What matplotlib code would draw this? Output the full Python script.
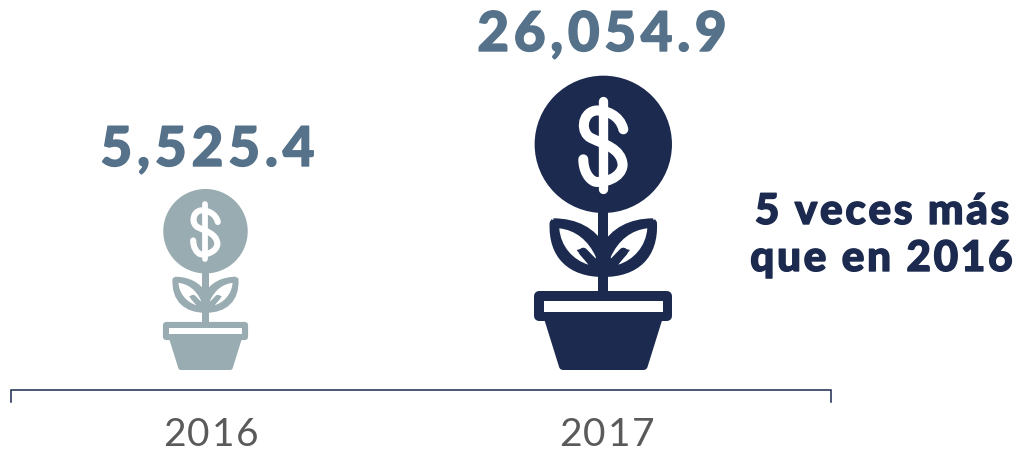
import matplotlib
matplotlib.use('Agg')
import matplotlib.pyplot as plt
import matplotlib.patheffects as pe
from matplotlib.path import Path
from matplotlib.patches import PathPatch, Circle

years = ['2016', '2017']
values = ['5,525.4', '26,054.9']
note = '5 veces más\nque en 2016'

navy = '#1b2a4e'
grey = '#98acb2'
blue = '#56728a'

M, C, L, Z = Path.MOVETO, Path.CURVE4, Path.LINETO, Path.CLOSEPOLY

fig = plt.figure(figsize=(10.19, 4.51), dpi=100)
ax = fig.add_axes([0, 0, 1, 1])
ax.set_xlim(0, 1019)
ax.set_ylim(451, 0)
ax.axis('off')


def spaced(x, y, s, size, color, weight, track, bold=0):
    # matplotlib has no letter spacing, so lay the characters out one by one
    r = fig.canvas.get_renderer()
    widths = []
    for i in range(len(s)):
        t = ax.text(0, 0, s[:i + 1] + '|', fontsize=size, fontweight=weight, family='Lato')
        widths.append(t.get_window_extent(r).width)
        t.remove()
    t = ax.text(0, 0, '|', fontsize=size, fontweight=weight, family='Lato')
    bar = t.get_window_extent(r).width
    t.remove()
    total = widths[-1] - bar + track * (len(s) - 1)
    left = x - total / 2
    for i, ch in enumerate(s):
        before = widths[i - 1] - bar if i > 0 else 0
        t = ax.text(left + before + track * i, y, ch, fontsize=size, fontweight=weight,
                    family='Lato', color=color, ha='left', va='baseline')
        if bold:
            t.set_path_effects([pe.withStroke(linewidth=bold, foreground=color)])


def plant(cx, base, s, color):
    def P(pts):
        return [(cx + s * (a - 250) / 3, base + s * (b - 900) / 3) for a, b in pts]

    def shape(pts, codes, fc, w=0.0):
        ax.add_patch(PathPatch(Path(P(pts), codes), fc=fc, ec=fc, lw=w * s / 3 * 0.72, joinstyle='round'))

    def stroke(pts, codes, col, w):
        ax.add_patch(PathPatch(Path(P(pts), codes), fc='none', ec=col,
                               lw=w * s / 3 * 0.72, capstyle='round', joinstyle='round'))

    # flower head and stem
    x0, y0 = P([(250, 223)])[0]
    ax.add_patch(Circle((x0, y0), 206 * s / 3, fc=color, ec='none'))
    shape([(235, 420), (265, 420), (265, 670), (235, 670), (235, 420)], [M, L, L, L, Z], color)

    # leaves
    for m in (1, -1):
        def f(pts):
            return [(250 + m * (a - 250), b) for a, b in pts]
        shape(f([(100, 451), (170, 451), (222, 480), (250, 530), (250, 615),
                 (150, 615), (90, 560), (95, 458), (100, 451)]),
              [M, C, C, C, L, C, C, C, L], color, 12)
        shape(f([(118, 475), (165, 480), (205, 510), (228, 562), (222, 575),
                 (190, 535), (170, 540), (205, 584), (160, 570), (122, 530),
                 (118, 475), (118, 475)]),
              [M, C, C, C, L, L, L, L, C, C, C, L], 'white')
        stroke(f([(190, 546), (221, 578)]), [M, L], color, 26)

    # pot
    shape([(58, 679), (441, 679), (441, 737), (58, 737), (58, 679)], [M, L, L, L, Z], color, 30)
    shape([(73, 693), (428, 693), (428, 725), (73, 725), (73, 693)], [M, L, L, L, Z], 'white')
    shape([(86, 750), (414, 750), (371, 888), (129, 888), (86, 750)], [M, L, L, L, Z], color, 24)

    # dollar sign
    stroke([(250, 92), (250, 357)], [M, L], 'white', 28)
    stroke([(310, 178), (300, 135), (255, 118), (225, 122), (185, 130), (180, 190), (215, 205),
            (250, 222), (305, 235), (308, 285), (305, 325), (250, 340), (225, 335), (205, 328), (190, 300), (190, 268)],
           [M] + [C] * 15, 'white', 30)


plant(205.5, 370, 0.615, grey)
plant(603.3, 370, 1.0, navy)

# axis bracket
ax.plot([11.5, 11.5, 831, 831], [402, 390, 390, 402], color=navy, lw=1.1, solid_joinstyle='miter')

xs = [207, 603]
for x, yr in zip(xs, years):
    spaced(x + 3.5, 446, yr, 28, '#5a5a5a', 'normal', 1.8)

spaced(207.5, 166, values[0], 39.5, blue, 'black', 4.8, 1.0)
spaced(602, 51, values[1], 39.5, blue, 'black', 4.6, 1.0)

line1, line2 = note.split('\n')
spaced(882, 224, line1, 30.5, navy, 'black', 2.6, 1.0)
spaced(881.5, 271, line2, 30.5, navy, 'black', 2.6, 1.0)

fig.savefig('out.png', dpi=100)
